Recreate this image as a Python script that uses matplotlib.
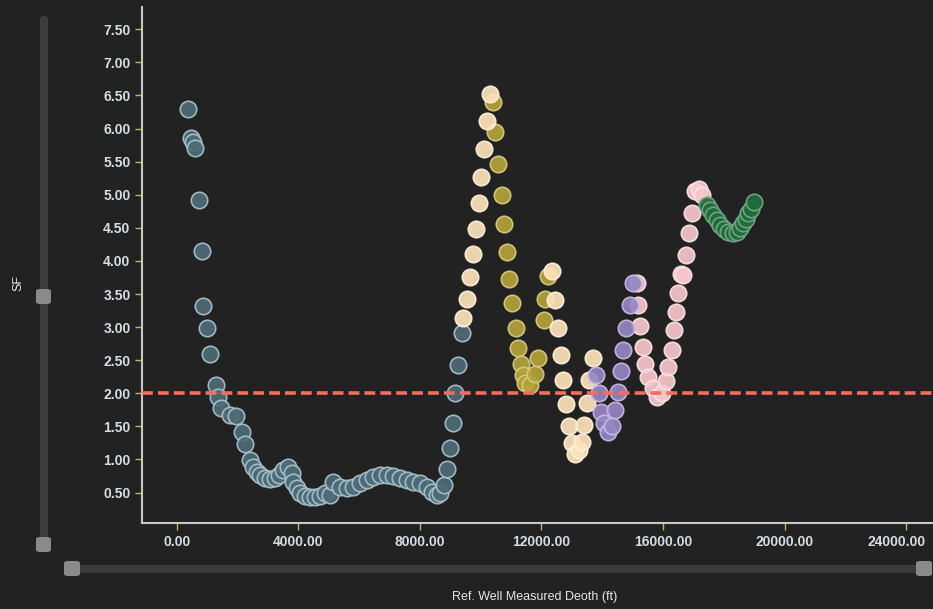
import matplotlib.pyplot as plt
import matplotlib.transforms as mtransforms
from matplotlib.patches import FancyBboxPatch

# measured depth (ft) and SF values per interval
slate_depth = [352, 451, 537, 602, 734, 823, 866, 997, 1086, 1294, 1360, 1439, 1745, 1932,
               2130, 2239, 2403, 2502, 2634, 2732, 2897, 3062, 3226, 3358, 3490, 3654, 3786,
               3819, 3950, 4049, 4214, 4378, 4543, 4708, 4872, 5037, 5136, 5366, 5596, 5794,
               6024, 6255, 6452, 6683, 6913, 7111, 7341, 7572, 7769, 8000, 8230, 8395, 8559,
               8658, 8790, 8888, 8987, 9096, 9152, 9260, 9372]
slate_sf = [6.30, 5.85, 5.80, 5.71, 4.92, 4.15, 3.32, 2.99, 2.60, 2.13, 1.95, 1.78, 1.67, 1.65,
            1.42, 1.23, 0.99, 0.89, 0.81, 0.77, 0.72, 0.70, 0.72, 0.77, 0.84, 0.88, 0.80,
            0.66, 0.57, 0.49, 0.45, 0.43, 0.43, 0.45, 0.49, 0.46, 0.66, 0.58, 0.57, 0.58,
            0.64, 0.69, 0.74, 0.76, 0.77, 0.75, 0.72, 0.69, 0.66, 0.64, 0.58, 0.51, 0.46,
            0.49, 0.61, 0.86, 1.17, 1.55, 2.00, 2.43, 2.91]

olive_depth = [10412, 10468, 10577, 10689, 10775, 10854, 10939, 11018, 11160, 11235, 11314,
               11380, 11456, 11620, 11785, 11874, 12081, 12124, 12223]
olive_sf = [6.40, 5.94, 5.46, 5.00, 4.56, 4.13, 3.72, 3.36, 2.99, 2.69, 2.44,
            2.28, 2.15, 2.13, 2.29, 2.54, 3.11, 3.43, 3.77]

cream_depth = [9425, 9557, 9646, 9734, 9843, 9932, 10019, 10106, 10195, 10304,
               12335, 12444, 12553, 12632, 12718, 12807, 12915, 12994, 13102, 13244,
               13323, 13399, 13488, 13564, 13685]
cream_sf = [3.13, 3.43, 3.76, 4.11, 4.48, 4.87, 5.27, 5.69, 6.12, 6.52,
            3.84, 3.41, 2.98, 2.58, 2.20, 1.84, 1.51, 1.25, 1.09, 1.14,
            1.27, 1.52, 1.85, 2.20, 2.54]

pink_depth = [15154, 15187, 15241, 15330, 15406, 15515, 15660, 15792, 15957, 16098, 16176,
              16286, 16362, 16428, 16504, 16580, 16647, 16756, 16864, 16944, 17052, 17194,
              17273]
pink_sf = [3.66, 3.33, 3.01, 2.70, 2.45, 2.25, 2.08, 1.95, 2.00, 2.18, 2.40,
           2.65, 2.96, 3.23, 3.51, 3.80, 3.79, 4.09, 4.42, 4.72, 5.05, 5.08,
           5.00]

purple_depth = [13793, 13880, 13948, 14060, 14200, 14330, 14420, 14530, 14610, 14690,
                14780, 14910, 15022]
purple_sf = [2.28, 2.00, 1.72, 1.55, 1.42, 1.50, 1.75, 2.02, 2.33, 2.65,
             2.99, 3.33, 3.66]

green_depth = [17438, 17547, 17656, 17767, 17876, 18007, 18149, 18294, 18425, 18534,
               18643, 18732, 18808, 18887, 18995]
green_sf = [4.84, 4.77, 4.69, 4.62, 4.54, 4.48, 4.43, 4.42, 4.44, 4.49,
            4.57, 4.64, 4.72, 4.79, 4.89]

sf_limit = 2.0

x_ticks = [0, 4000, 8000, 12000, 16000, 20000, 24000]
y_ticks = [0.5, 1.0, 1.5, 2.0, 2.5, 3.0, 3.5, 4.0, 4.5, 5.0, 5.5, 6.0, 6.5, 7.0, 7.5]

bg = '#222222'
plt.rcParams['font.family'] = ['Liberation Sans', 'DejaVu Sans']

fig = plt.figure(figsize=(9.33, 6.09), dpi=100, facecolor=bg)
ax = fig.add_axes([0.1525, 0.1407, 0.8475, 0.8483], facecolor=bg)

groups = [
    (slate_depth, slate_sf, '#4e6b78', '#a9c2cc'),
    (olive_depth, olive_sf, '#b4a33a', '#d8cc7e'),
    (cream_depth, cream_sf, '#fde3bb', '#fff1dc'),
    (pink_depth, pink_sf, '#f8c7cc', '#fde2e5'),
    (purple_depth, purple_sf, '#9686c4', '#c6bbe8'),
    (green_depth, green_sf, '#1f6c3b', '#74a886'),
]
for depth, sf, face, edge in groups:
    ax.scatter(depth, sf, s=140, c=face, edgecolors=edge, linewidths=1.2, alpha=0.92, zorder=3)

ax.axhline(sf_limit, color='#f26e5c', lw=2.6, dashes=(3.0, 1.4), zorder=4)

ax.set_xlim(-1142, 24888)
ax.set_ylim(0.036, 7.84)
ax.set_xticks(x_ticks)
ax.set_xticklabels(['%.2f' % v for v in x_ticks])
ax.set_yticks(y_ticks)
ax.set_yticklabels(['%.2f' % v for v in y_ticks])
ax.tick_params(colors='#c9b458', length=5, width=1)
for lab in ax.get_xticklabels() + ax.get_yticklabels():
    lab.set_color('#d8dce4')
    lab.set_fontweight('bold')
    lab.set_fontsize(10)

# keep the last x label inside the figure
last = ax.get_xticklabels()[-1]
last.set_horizontalalignment('right')
last.set_transform(last.get_transform() + mtransforms.ScaledTranslation(0.20, 0, fig.dpi_scale_trans))

for side in ['top', 'right']:
    ax.spines[side].set_visible(False)
for side in ['left', 'bottom']:
    ax.spines[side].set_color('#c8c8c8')
    ax.spines[side].set_linewidth(1.5)

# range sliders
W, H = 933.0, 609.0


def box(x0, y0, w, h, color):
    p = FancyBboxPatch((x0 / W, 1 - (y0 + h) / H), w / W, h / H,
                       boxstyle='round,pad=0,rounding_size=0.004',
                       transform=fig.transFigure, facecolor=color, edgecolor='none')
    fig.patches.append(p)


box(40, 16, 8, 530, '#3b3b3b')
box(36, 289, 15, 15, '#8a8a8a')
box(36, 537, 15, 15, '#8a8a8a')
box(66, 565, 862, 8, '#3b3b3b')
box(64, 561, 16, 15, '#8a8a8a')
box(916, 561, 16, 15, '#8a8a8a')

fig.text(18 / W, 1 - 283 / H, 'SF', rotation=90, color='#e6e6e6', fontsize=9,
         ha='center', va='center')
fig.text(535 / W, 1 - 597 / H, 'Ref. Well Measured Deoth (ft)', color='#e6e6e6',
         fontsize=9, ha='center', va='center')

fig.savefig('out.png', dpi=100, facecolor=bg)
